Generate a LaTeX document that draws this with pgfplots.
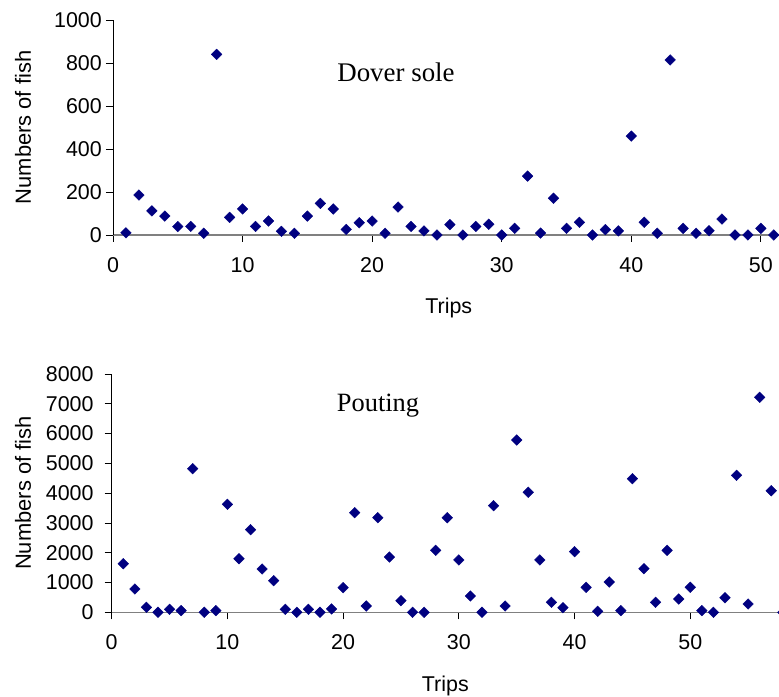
\documentclass[border=0pt]{standalone}
\usepackage{fontspec}
\setmainfont{Liberation Sans}
\newfontfamily\timesf{Liberation Serif}
\usepackage{pgfplots}
\pgfplotsset{compat=1.18}
\definecolor{navyc}{RGB}{0,0,128}
\pgfplotsset{
  myax/.style={
    scale only axis,
    axis x line*=bottom,
    axis y line*=left,
    x axis line style={gray, line width=1.3bp},
    y axis line style={black, line width=0.8bp},
    tick style={black, line width=0.8bp},
    major tick length=7bp,
    tick align=outside,
    enlargelimits=false,
    clip=false,
    scaled y ticks=false,
    /pgf/number format/1000 sep={},
    /pgf/number format/assume math mode=true,
    tick label style={font=\fontsize{21.5}{25}\selectfont},
    xticklabel style={anchor=north, inner sep=0pt},
    yticklabel style={anchor=east, inner sep=0pt},
    every axis y label/.style={rotate=90, anchor=center, font=\fontsize{22}{26}\selectfont},
    every axis x label/.style={at={(axis description cs:0.5,0)}, anchor=base, font=\fontsize{21.5}{25}\selectfont},
  },
  mymark/.style={only marks, mark=square*, mark size=3.75bp, mark options={rotate=45, fill=navyc, draw=navyc}},
}
\begin{document}
\begin{tikzpicture}
\begin{axis}[myax,
  at={(113bp,462bp)}, anchor=south west,
  width=666bp, height=215bp,
  xmin=0, xmax=51.4, ymin=0, ymax=1000,
  xtick={0,10,...,50}, ytick={0,200,...,1000},
  xticklabel style={yshift=-15bp},
  yticklabel style={xshift=-4bp},
  xlabel={Trips}, ylabel={Numbers of fish},
  xlabel style={yshift=-78.3bp, xshift=2.8bp},
  ylabel style={at={(axis description cs:-0.1351,0.5)}},
]
\addplot[mymark] coordinates {
(1,10) (2,186) (3,112) (4,88) (5,39) (6,40) (7,8) (8,840) (9,82) (10,121)
(11,40) (12,65) (13,17) (14,8) (15,88) (16,147) (17,121) (18,26) (19,57) (20,65)
(21,8) (22,130) (23,40) (24,19) (25,0) (26,48) (27,0) (28,40) (29,50) (30,0)
(31,31) (32,274) (33,9) (34,171) (35,31) (36,59) (37,0) (38,25) (39,19) (40,460)
(41,59) (42,8) (43,814) (44,31) (45,8) (46,20) (47,74) (48,0) (49,0) (50,31) (51,0)
};
\node[anchor=base west, inner sep=0pt, font=\timesf\fontsize{27}{30}\selectfont] at (axis cs:17.3,713) {Dover sole};
\end{axis}
\begin{axis}[myax,
  at={(111.7bp,84.7bp)}, anchor=south west,
  width=667.3bp, height=238.3bp,
  xmin=0, xmax=57.67, ymin=0, ymax=8000,
  xtick={0,10,...,50}, ytick={0,1000,...,8000},
  xticklabel style={yshift=-15bp},
  yticklabel style={xshift=-11bp},
  xlabel={Trips}, ylabel={Numbers of fish},
  xlabel style={yshift=-78.7bp},
  ylabel style={at={(axis description cs:-0.1329,0.5)}},
]
\addplot[mymark] coordinates {
(1,1632) (2,782) (3,168) (4,0) (5,100) (6,55) (7,4821) (8,0) (9,55) (10,3626)
(11,1800) (12,2773) (13,1454) (14,1061) (15,100) (16,0) (17,100) (18,0) (19,112) (20,826)
(21,3344) (22,211) (23,3176) (24,1856) (25,390) (26,0) (27,0) (28,2081) (29,3176) (30,1756)
(31,547) (32,0) (33,3579) (34,211) (35,5784) (36,4028) (37,1756) (38,336) (39,155) (40,2035)
(41,839) (42,34) (43,1017) (44,55) (45,4485) (46,1464) (47,336) (48,2081) (49,446) (50,839)
(51,55) (52,0) (53,490) (54,4599) (55,279) (56,7217) (57,4082) (58,0)
};
\node[anchor=base west, inner sep=0pt, font=\timesf\fontsize{26.5}{30}\selectfont] at (axis cs:19.45,6734) {Pouting};
\end{axis}
\pgfresetboundingbox
\path[use as bounding box] (0,0) rectangle (779bp,697bp);
\end{tikzpicture}
\end{document}
